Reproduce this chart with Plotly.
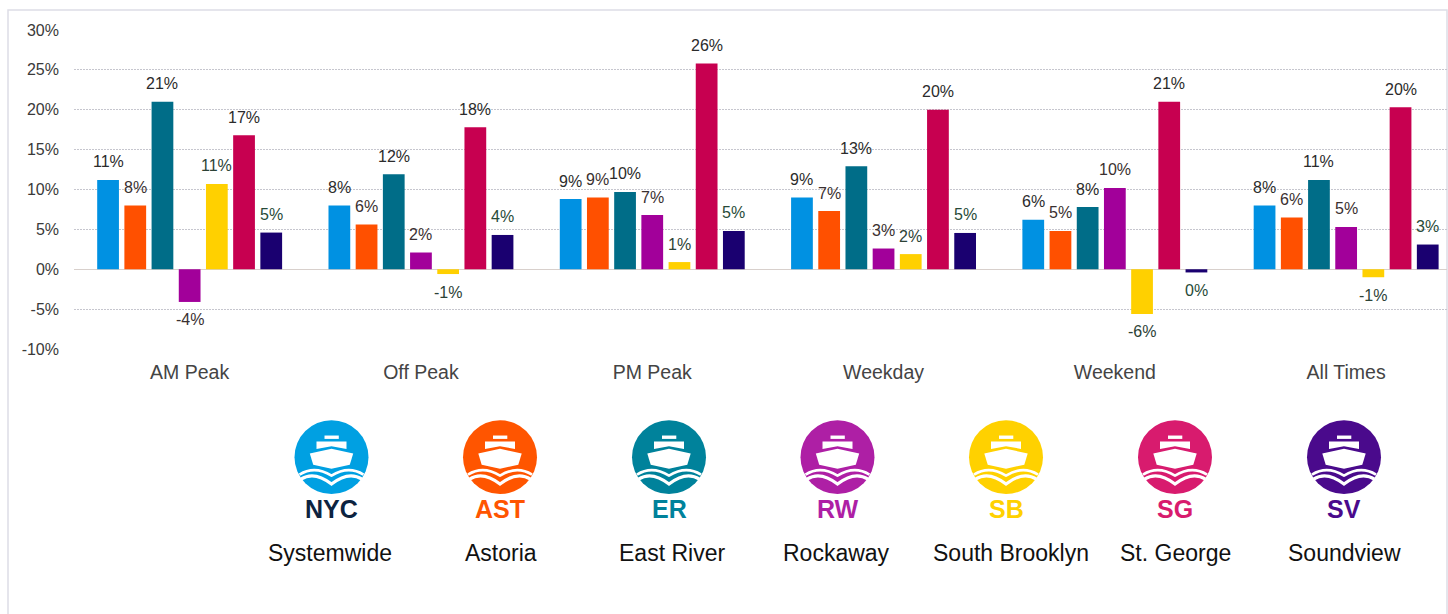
#!/usr/bin/env python3
# -*- coding: utf-8 -*-
"""Ferry ridership change by time period and route, with route badges below."""

import plotly.graph_objects as go

# Data
periodos = ['AM Peak', 'Off Peak', 'PM Peak', 'Weekday', 'Weekend', 'All Times']

nyc = [11.2, 8.0, 8.8, 9.0, 6.2, 8.0]
ast = [8.0, 5.6, 9.0, 7.3, 4.8, 6.5]
er = [21.0, 11.9, 9.7, 12.9, 7.8, 11.2]
rw = [-4.1, 2.1, 6.8, 2.6, 10.2, 5.3]
sb = [10.7, -0.6, 0.9, 1.9, -5.6, -1.0]
sg = [16.8, 17.8, 25.8, 20.0, 21.0, 20.3]
sv = [4.6, 4.3, 4.8, 4.55, -0.4, 3.1]

rotas = ['Systemwide', 'Astoria', 'East River', 'Rockaway', 'South Brooklyn', 'St. George', 'Soundview']
codigos = ['NYC', 'AST', 'ER', 'RW', 'SB', 'SG', 'SV']
valores = [nyc, ast, er, rw, sb, sg, sv]

y_ticks = [-10, -5, 0, 5, 10, 15, 20, 25, 30]

# Colours
cores_barra = ['#0091e2', '#ff5000', '#006d88', '#a2009a', '#ffd000', '#c70050', '#1a0070']
cores_logo = ['#00a0e2', '#ff5500', '#00829b', '#ae1fa5', '#ffd100', '#d81b6e', '#4a0a8c']
cores_codigo = ['#0c2340', '#ff5500', '#00829b', '#ae1fa5', '#ffd100', '#d81b6e', '#4a0a8c']
cores_rotulo = ['#2b2b2b', '#3a3030', '#2b2b2b', '#3a3030', '#2c4236', '#2b2b2b', '#274a38']

# Page geometry (pixels)
W, H = 1448, 614
ESQ, DIR, TOPO, BASE = 74, 1447, 29.5, 349.5
LARG_CAT = 231.3

logo_x = [331.5, 500, 669, 837.5, 1006, 1175, 1344]
nome_x = [330, 500.5, 671.5, 836.5, 1010.5, 1175.5, 1344]
LOGO_Y = 458
RAIO = 37


def px(x):
    return (x - ESQ) / (DIR - ESQ)


def py(y):
    return (BASE - y) / (BASE - TOPO)


def ponto(cx, cy, a, b):
    return f'{px(cx + a):.5f},{py(cy + b):.5f}'


def poligono(cx, cy, pontos):
    # plotly reads one pair per L, so each vertex gets its own command
    return 'M ' + ' L '.join(ponto(cx, cy, a, b) for a, b in pontos) + ' Z'


def onda(cx, cy, x0, y0, cx1, cy1, y1):
    return (f'M {ponto(cx, cy, x0, y0)} '
            f'Q {ponto(cx, cy, cx1, cy1)} {ponto(cx, cy, 0, y1)} '
            f'Q {ponto(cx, cy, -cx1, cy1)} {ponto(cx, cy, -x0, y0)}')


def logo(cx, cy, cor):
    formas = [dict(type='circle', xref='paper', yref='paper',
                   x0=px(cx - RAIO), x1=px(cx + RAIO), y0=py(cy + RAIO), y1=py(cy - RAIO),
                   fillcolor=cor, line=dict(width=0))]
    # ship: funnel, deckhouse, hull
    pecas = [
        [(-7, -21.7), (7.3, -21.7), (7.3, -18.3), (-7, -18.3)],
        [(-15, -15.7), (15, -15.7), (15, -8.3), (0, -11), (-15, -8.3)],
        [(-21.7, -3.7), (0, -8.5), (21.7, -3.7), (18.3, 7.5), (0, 11.7), (-18.3, 7.5)],
    ]
    for p in pecas:
        formas.append(dict(type='path', xref='paper', yref='paper', path=poligono(cx, cy, p),
                           fillcolor='white', line=dict(width=0)))
    # two waves
    formas.append(dict(type='path', xref='paper', yref='paper',
                       path=onda(cx, cy, -32, 17.5, -17, 8.1, 18.5),
                       line=dict(color='white', width=2.6)))
    formas.append(dict(type='path', xref='paper', yref='paper',
                       path=onda(cx, cy, -30.5, 22, -17, 13.5, 27),
                       line=dict(color='white', width=3.2)))
    return formas


# Create chart
fig = go.Figure()

for nome, serie, cor in zip(rotas, valores, cores_barra):
    fig.add_trace(go.Bar(
        x=periodos,
        y=serie,
        name=nome,
        marker=dict(color=cor, line=dict(width=0)),
        hovertemplate='<b>%{x}</b><br>' + nome + ': %{y}%<extra></extra>'
    ))

# Value labels, set a little further from the bars than textposition allows
BARGAP, PASSO = 0.177, (1 - 0.177) / 7
anotacoes = []
for j, (serie, cor) in enumerate(zip(valores, cores_rotulo)):
    for i, v in enumerate(serie):
        anotacoes.append(dict(
            x=i + (j - 3) * PASSO, y=v, xref='x', yref='y',
            text=f'{round(v)}%', showarrow=False,
            yshift=18 if v >= 0 else -18, yanchor='middle', xanchor='center',
            font=dict(size=16, color=cor, family='Liberation Sans')
        ))

# Route badges
formas = [dict(type='rect', xref='paper', yref='paper', layer='below',
               x0=px(8), x1=px(1447), y0=py(640), y1=py(9.5),
               line=dict(color='#dddde6', width=1.5), fillcolor='white')]
for k in range(len(rotas)):
    formas += logo(logo_x[k], LOGO_Y, cores_logo[k])
    anotacoes.append(dict(x=px(logo_x[k]), y=py(509.5), xref='paper', yref='paper',
                          text=f'<b>{codigos[k]}</b>', showarrow=False, xanchor='center', yanchor='middle',
                          font=dict(size=25, color=cores_codigo[k], family='Liberation Sans')))
    anotacoes.append(dict(x=px(nome_x[k]), y=py(554), xref='paper', yref='paper',
                          text=rotas[k], showarrow=False, xanchor='center', yanchor='middle',
                          font=dict(size=23, color='#111111', family='Liberation Sans')))

fig.update_layout(
    width=W,
    height=H,
    margin=dict(l=ESQ, r=W - DIR, t=TOPO, b=H - BASE, pad=0),
    paper_bgcolor='white',
    plot_bgcolor='rgba(0,0,0,0)',
    barmode='group',
    bargap=BARGAP,
    bargroupgap=0.2,
    showlegend=False,
    font=dict(family='Liberation Sans', color='#3f3f3f'),
    shapes=formas,
    annotations=anotacoes,
    xaxis=dict(
        type='category',
        range=[-0.5, (DIR - ESQ) / LARG_CAT - 0.5],
        showgrid=False,
        zeroline=False,
        showline=False,
        ticks='',
        tickfont=dict(size=19.5, color='#444444'),
        ticklabelstandoff=9
    ),
    yaxis=dict(
        range=[-10, 30],
        tickvals=y_ticks,
        ticktext=[f'{t}%' for t in y_ticks],
        showgrid=True,
        gridcolor='#c6c6ce',
        griddash='2px,1px',
        gridwidth=1,
        zeroline=True,
        zerolinecolor='#d8d0cc',
        zerolinewidth=1,
        showline=False,
        ticks='',
        tickfont=dict(size=16, color='#3a3a3a'),
        ticklabelstandoff=14
    )
)

# Export
fig.write_html('out.html', config=dict(displayModeBar=False),
               post_script="document.body.style.margin='0';")
